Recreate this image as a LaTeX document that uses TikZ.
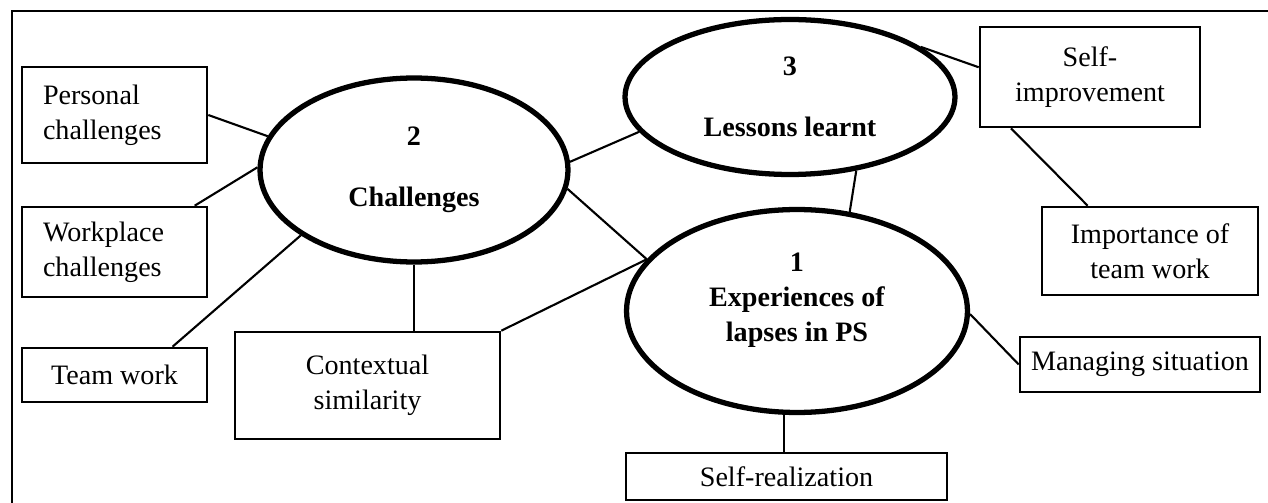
\documentclass[tikz,border=0pt]{standalone}
\usepackage{fontspec}
\setmainfont{Liberation Serif}
\usetikzlibrary{shapes.geometric}

\begin{document}
\begin{tikzpicture}[x=0.02cm,y=-0.02cm,
  box/.style={draw,line width=1.5pt,inner sep=0pt,align=center,font=\fontsize{16}{20}\selectfont},
  theme/.style={draw,ellipse,line width=3pt,inner sep=0pt,align=center,font=\fontsize{16}{20}\selectfont\bfseries},
  link/.style={line width=1.2pt}]
\useasboundingbox (0,0) rectangle (1268,503);
% frame, only top and left edges show
\draw[line width=1.6pt] (12,503) -- (12,11) -- (1268,11);

% the three themes
\node[theme,minimum width=6.16cm,minimum height=3.68cm] (chall) at (414,170) {2\\[15pt]Challenges};
\node[theme,minimum width=6.6cm,minimum height=3.1cm] (lessons) at (790,97) {3\\[15pt]Lessons learnt};
\node[theme,minimum width=6.82cm,minimum height=4.06cm] (exper) at (797,311) {1\\Experiences of\\lapses in PS\\[-4pt]\mbox{}};

% sub-themes
\node[box,align=left,text width=2.86cm,minimum width=3.7cm,minimum height=1.92cm] (personal) at (114.5,115) {Personal\\challenges};
\node[box,align=left,text width=2.86cm,minimum width=3.7cm,minimum height=1.8cm] (workplace) at (114.5,252) {Workplace\\challenges};
\node[box,minimum width=3.7cm,minimum height=1.08cm] (teamwork) at (114.5,375) {Team work};
\node[box,minimum width=5.3cm,minimum height=2.14cm] (context) at (367.5,385.5) {Contextual\\similarity};
\node[box,minimum width=4.4cm,minimum height=2cm] (selfimp) at (1090,77) {Self-\\improvement};
\node[box,minimum width=4.32cm,minimum height=1.76cm] (importance) at (1150,251) {Importance of\\team work};
\node[box,minimum width=4.8cm,minimum height=1.1cm] (managing) at (1140,364.5) {Managing situation};
\node[box,minimum width=6.42cm,minimum height=0.94cm] (selfreal) at (786.5,476.5) {Self-realization};

% connectors
\draw[link] (personal.east) -- (chall.167);
\draw[link] (workplace.30) -- (chall.179);
\draw[link] (teamwork.26) -- (chall.210);
\draw[link] (chall.south) -- (chall.south |- context.north);
\draw[link] (context.north east) -- (exper.161);
\draw[link] (chall.3) -- (lessons.193);
\draw[link] (chall.353) -- (exper.161);
\draw[link] (lessons.312) -- (exper.62);
\draw[link] (lessons.21) -- (selfimp.175);
\draw[link] (selfimp.213) -- (importance.144);
\draw[link] (exper.359) -- (managing.west);
\draw[link] (exper.263) -- (exper.263 |- selfreal.north);
\end{tikzpicture}
\end{document}
